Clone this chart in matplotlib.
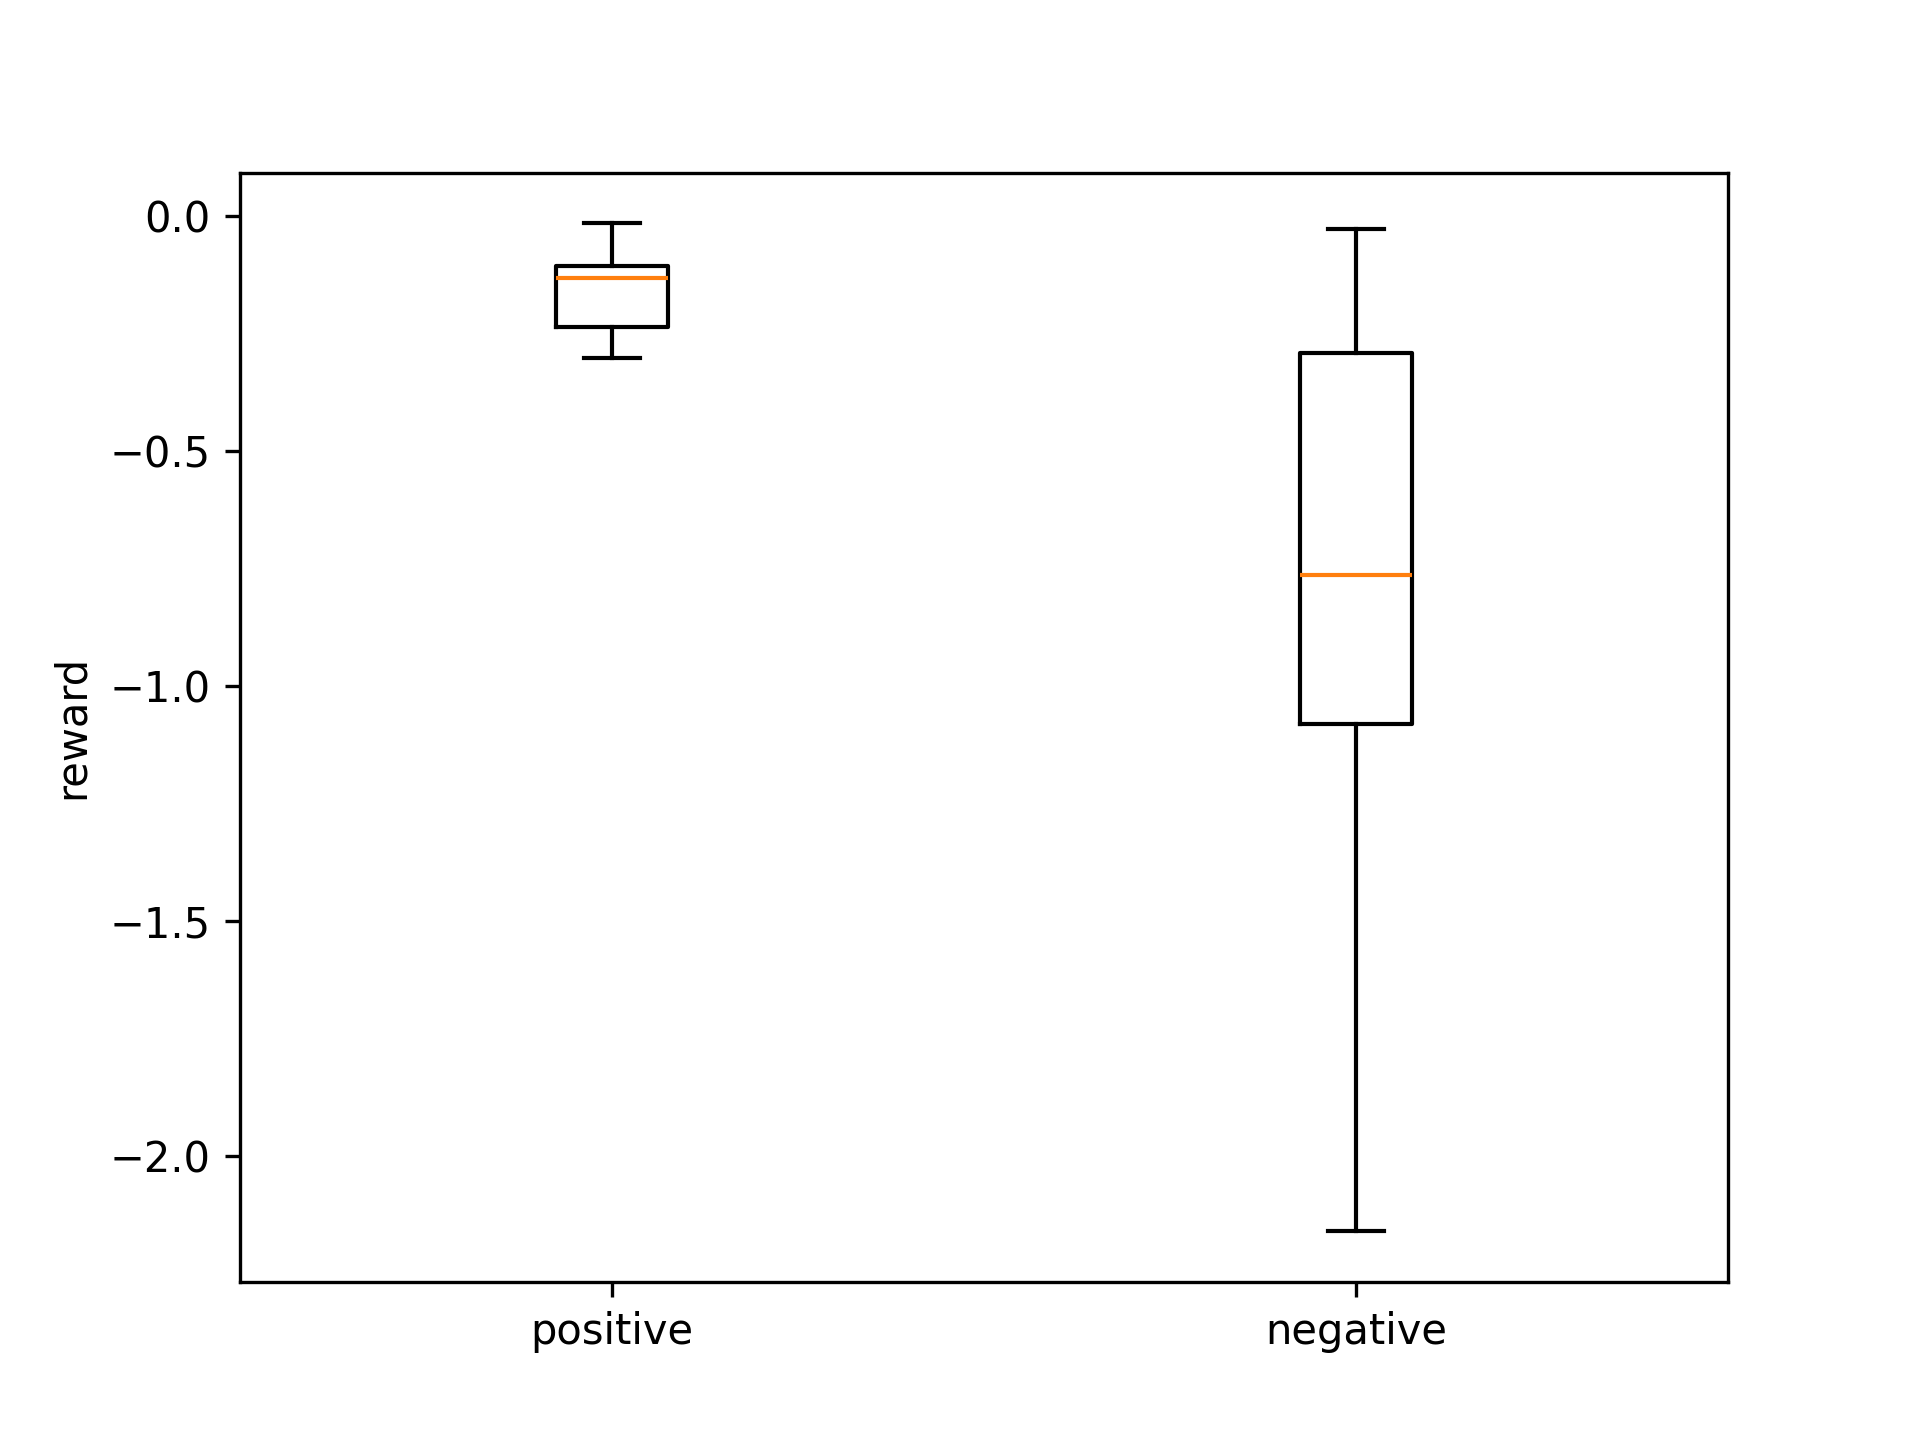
import matplotlib
matplotlib.use("Agg")
import matplotlib.pyplot as plt

labels = ["positive", "negative"]
whislo = [-0.302, -2.160]
q1 = [-0.237, -1.082]
med = [-0.132, -0.763]
q3 = [-0.107, -0.291]
whishi = [-0.0155, -0.028]

stats = []
for i in range(len(labels)):
    stats.append({
        "label": labels[i],
        "whislo": whislo[i],
        "q1": q1[i],
        "med": med[i],
        "q3": q3[i],
        "whishi": whishi[i],
        "fliers": [],
    })

fig, ax = plt.subplots(figsize=(6.4, 4.8), dpi=300)
ax.bxp(stats)
ax.set_ylabel("reward")
fig.savefig("out.png", dpi=300)
